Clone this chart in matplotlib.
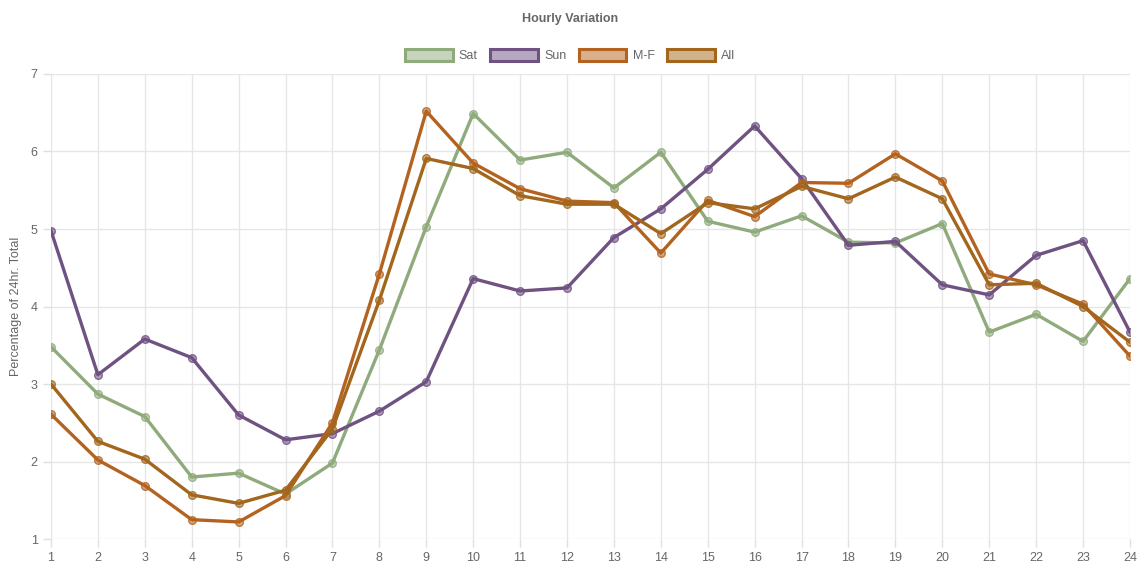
import numpy as np
import matplotlib.pyplot as plt
from matplotlib.patches import Patch
from matplotlib.colors import to_rgba

plt.rcParams['font.family'] = ['Liberation Sans', 'DejaVu Sans']

hours = list(range(1, 25))
sat = [3.48, 2.87, 2.58, 1.80, 1.85, 1.58, 1.98, 3.44, 5.03, 6.49, 5.89, 5.99,
       5.53, 5.99, 5.10, 4.96, 5.17, 4.83, 4.82, 5.07, 3.67, 3.90, 3.55, 4.36]
sun = [4.98, 3.12, 3.58, 3.34, 2.60, 2.28, 2.36, 2.65, 3.03, 4.36, 4.20, 4.24,
       4.89, 5.26, 5.77, 6.33, 5.65, 4.79, 4.84, 4.28, 4.15, 4.66, 4.85, 3.67]
mf = [2.61, 2.02, 1.69, 1.25, 1.22, 1.56, 2.50, 4.42, 6.52, 5.85, 5.52, 5.36,
      5.34, 4.69, 5.37, 5.16, 5.60, 5.59, 5.97, 5.62, 4.42, 4.28, 4.03, 3.36]
all_days = [3.00, 2.26, 2.03, 1.57, 1.46, 1.63, 2.42, 4.08, 5.91, 5.78, 5.43, 5.32,
            5.32, 4.94, 5.34, 5.26, 5.55, 5.39, 5.67, 5.39, 4.28, 4.30, 4.00, 3.54]

labels = ['Sat', 'Sun', 'M-F', 'All']
series = [sat, sun, mf, all_days]
colors = ['#8fab7c', '#6f5282', '#b3631f', '#a2661d']

fig = plt.figure(figsize=(11.4, 5.64), dpi=100)
ax = fig.add_axes([0.0447, 0.0443, 0.9465, 0.8245])

for vals, c in zip(series, colors):
    ax.plot(hours, vals, color=c, lw=2.4, marker='o', ms=5.5,
            mfc=to_rgba(c, 0.55), mec=to_rgba(c, 0.8), mew=1.0, zorder=3)

ax.set_xlim(1, 24)
ax.set_ylim(1, 7)
ax.set_xticks(hours)
ax.set_yticks(range(1, 8))
ax.grid(True, color='#e6e6e6', lw=1)
for s in ax.spines.values():
    s.set_visible(False)
ax.tick_params(colors='#e0e0e0', labelcolor='#666666', labelsize=9, length=6, width=1)
ax.set_ylabel('Percentage of 24hr. Total', color='#666666', fontsize=9, labelpad=6)

fig.text(0.5, 0.966, 'Hourly Variation', ha='center', va='center',
         fontsize=9, fontweight='bold', color='#666666')

handles = [Patch(facecolor=to_rgba(c, 0.5), edgecolor=c, lw=2.2) for c in colors]
fig.legend(handles, labels, loc='center', bbox_to_anchor=(0.5, 0.901), ncol=4,
           frameon=False, fontsize=9, labelcolor='#666666', handlelength=3.8,
           handleheight=1.0, columnspacing=1.0, handletextpad=0.5)

fig.savefig('out.png', dpi=100)
